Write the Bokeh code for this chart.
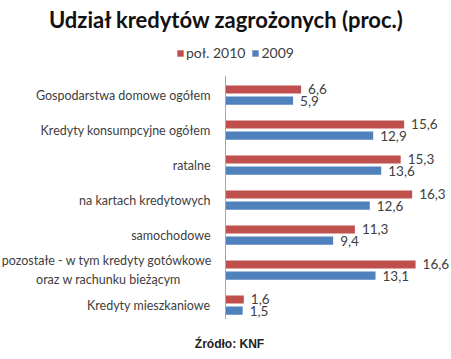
from bokeh.plotting import figure
from bokeh.models import Range1d, ColumnDataSource, Legend, LegendItem
from bokeh.core.properties import value
from bokeh.embed import file_html
from bokeh.resources import INLINE

title_text = "Udział kredytów zagrożonych (proc.)"
source_text = "Źródło: KNF"
series_names = ["poł. 2010", "2009"]
categories = [
    "Gospodarstwa domowe ogółem",
    "Kredyty konsumpcyjne ogółem",
    "ratalne",
    "na kartach kredytowych",
    "samochodowe",
    "pozostałe - w tym  kredyty gotówkowe\noraz w rachunku bieżącym",
    "Kredyty mieszkaniowe",
]
vals_2010 = [6.6, 15.6, 15.3, 16.3, 11.3, 16.6, 1.6]
vals_2009 = [5.9, 12.9, 13.6, 12.6, 9.4, 13.1, 1.5]

RED = "#C0504D"
BLUE = "#4F81BD"
TXT = "#404040"
FONT = "Lato"

W, H = 451, 359
AXIS_PX = 225      # x of value 0 in figure px
PXU = 11.45        # px per unit
TOP_PX = 77        # top of category band
ROW = 35           # px per category

def fx(px):
    return (px - AXIS_PX) / PXU

def fy(py):
    return (py - TOP_PX) / ROW

p = figure(width=W, height=H, output_backend="svg", toolbar_location=None,
           x_range=Range1d(fx(0), fx(W)), y_range=Range1d(fy(H), fy(0)),
           min_border=0, min_border_left=0, min_border_right=0,
           min_border_top=0, min_border_bottom=0)
p.xaxis.visible = False
p.yaxis.visible = False
p.grid.visible = False
p.outline_line_color = None
p.background_fill_color = "white"
p.border_fill_color = "white"

n = len(categories)
centers = [i + 0.5 for i in range(n)]
off = 0.16
bh = 0.23
fmt = lambda v: f"{v:.1f}".replace(".", ",")

src = ColumnDataSource(dict(
    y1=[c - off for c in centers], y2=[c + off for c in centers],
    v1=vals_2010, v2=vals_2009,
    t1=[fmt(v) for v in vals_2010], t2=[fmt(v) for v in vals_2009],
))

r1 = p.hbar(y="y1", left=0, right="v1", height=bh, source=src,
            fill_color=RED, line_color=None)
r2 = p.hbar(y="y2", left=0, right="v2", height=bh, source=src,
            fill_color=BLUE, line_color=None)

for col_v, col_t, col_y in (("v1", "t1", "y1"), ("v2", "t2", "y2")):
    p.text(x=col_v, y=col_y, text=col_t, source=src, x_offset=7,
           text_align="left", text_baseline="middle",
           text_font=value(FONT), text_font_size="13.5px", text_color=TXT)

# axis line
p.segment(x0=[0], y0=[-0.05], x1=[0], y1=[n - 0.1], line_color="#A6A6A6", line_width=1)

# category labels
label_x = fx(210)
for c, lab in zip(centers, categories):
    if "\n" in lab:
        p.text(x=[fx(108)], y=[c], text=[lab], text_align="center",
               text_baseline="middle", text_font=value(FONT),
               text_font_size="12.5px", text_color=TXT, text_line_height=1.3)
    else:
        p.text(x=[label_x], y=[c], text=[lab], text_align="right",
               text_baseline="middle", text_font=value(FONT),
               text_font_size="12.5px", text_color=TXT)

# title
p.text(x=[fx(226)], y=[fy(19)], text=[title_text], text_align="center",
       text_baseline="middle", text_font=value(FONT), text_font_style="bold",
       text_font_size="22px", text_color="#111111")

# source
p.text(x=[fx(229)], y=[fy(343)], text=[source_text], text_align="center",
       text_baseline="middle", text_font=value("Liberation Sans"),
       text_font_style="bold", text_font_size="12px", text_color="#222222")

legend = Legend(items=[LegendItem(label=series_names[0], renderers=[r1]),
                       LegendItem(label=series_names[1], renderers=[r2])],
                orientation="horizontal", location=(176, 298),
                padding=0, margin=0, spacing=6, label_standoff=2,
                glyph_width=8, glyph_height=8, label_height=12,
                label_text_font=FONT, label_text_font_size="14px",
                label_text_color=TXT, border_line_color=None,
                background_fill_alpha=0)
p.add_layout(legend, "center")

open("out.html", "w").write(file_html(p, INLINE))
